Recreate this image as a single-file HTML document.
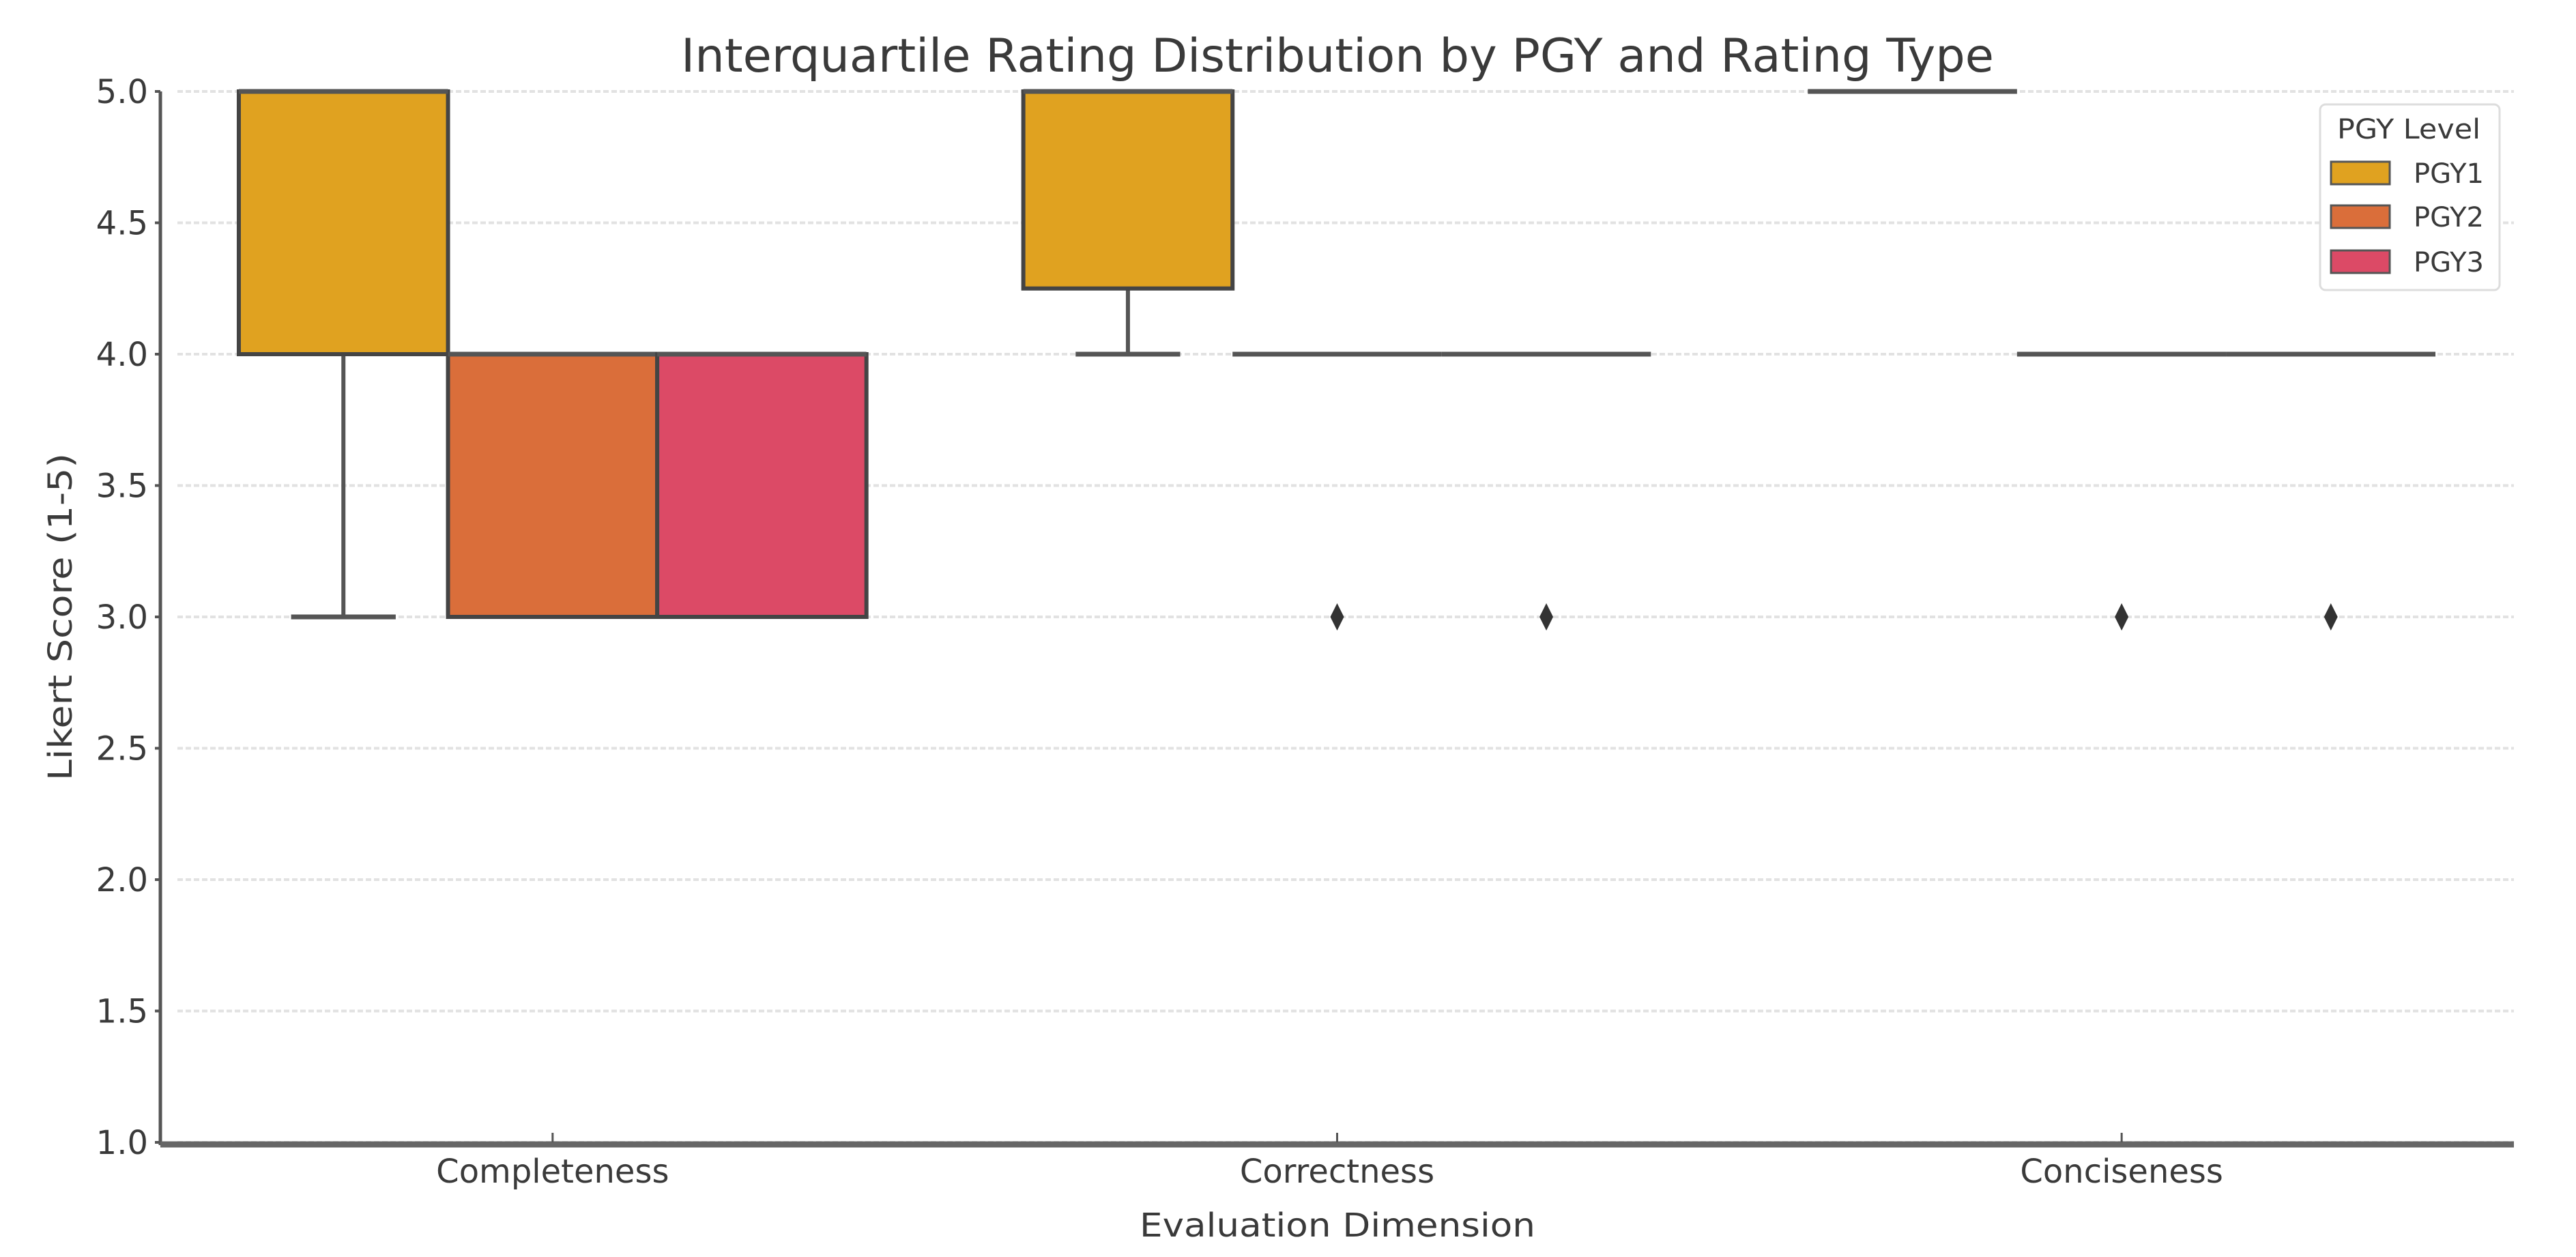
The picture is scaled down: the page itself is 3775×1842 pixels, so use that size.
<!DOCTYPE html>
<html><head><meta charset="utf-8">
<style>
html,body{margin:0;padding:0;background:#fff;}
svg{display:block;}
text{font-family:"DejaVu Sans","Liberation Sans",sans-serif;fill:#3a3a3a;}
</style></head>
<body>
<svg id="chart" width="3775" height="1842" viewBox="0 0 3775 1842" xmlns="http://www.w3.org/2000/svg">
<rect width="3775" height="1842" fill="#fff"/>
<g id="grid"></g>
<g id="boxes"></g>
<g id="axes"></g>
<text x="1960" y="105" font-size="68" text-anchor="middle" textLength="1924" lengthAdjust="spacingAndGlyphs">Interquartile Rating Distribution by PGY and Rating Type</text>
<text x="1960" y="1812" font-size="48" text-anchor="middle" textLength="580" lengthAdjust="spacingAndGlyphs">Evaluation Dimension</text>
<text x="0" y="0" font-size="48" text-anchor="middle" transform="translate(105,904) rotate(-90)" textLength="480" lengthAdjust="spacingAndGlyphs">Likert Score (1-5)</text>
<g id="legend">
<rect x="3400" y="153" width="263" height="272" rx="8" fill="#fff" stroke="#ddd" stroke-width="3"/>
<text x="3530" y="203" font-size="40" text-anchor="middle" textLength="210" lengthAdjust="spacingAndGlyphs">PGY Level</text>
</g>
</svg>
<script>
const categories = ["Completeness","Correctness","Conciseness"];
const groups = ["PGY1","PGY2","PGY3"];
const colors = ["#E0A220","#DA6E3A","#DC4A66"];
// per group, per category
const q1 =     [[4,4.25,5],[3,4,4],[3,4,4]];
const median = [[5,5,5],[4,4,4],[4,4,4]];
const q3 =     [[5,5,5],[4,4,4],[4,4,4]];
const whisLo = [[3,4,5],[3,4,4],[3,4,4]];
const whisHi = [[5,5,5],[4,4,4],[4,4,4]];
const outliers = [[[],[],[]],[[],[3],[3]],[[],[3],[3]]];
const yTicks = [1.0,1.5,2.0,2.5,3.0,3.5,4.0,4.5,5.0];

const NS="http://www.w3.org/2000/svg";
const pLeft=235, pRight=3684, pTop=134, pBottom=1674;
const step=(pRight-pLeft)/categories.length;
function xCat(i){return pLeft+step*(i+0.5);}
function y(v){return pBottom-(v-1)/4*(pBottom-pTop);}
const boxW=step*0.8/groups.length;
function xGroup(ci,gi){return xCat(ci)+(gi-(groups.length-1)/2)*boxW;}
function mk(tag,attrs,parent){const e=document.createElementNS(NS,tag);for(const k in attrs)e.setAttribute(k,attrs[k]);parent.appendChild(e);return e;}

const grid=document.getElementById('grid'), boxes=document.getElementById('boxes'), axes=document.getElementById('axes'), legend=document.getElementById('legend');

yTicks.forEach(t=>{
  const g=mk('line',{x1:pLeft+25,x2:pRight,y1:y(t),y2:y(t),stroke:'#e2e2e2','stroke-width':4,'stroke-dasharray':'8,4'},grid);
  
  
  const tk=mk('line',{x1:pLeft-8,x2:pLeft,y1:y(t),y2:y(t),stroke:'#555','stroke-width':4},axes);
  
  
  const tl=mk('text',{x:pLeft-18,y:y(t)+17,'font-size':48,'text-anchor':'end'},axes);
  tl.textContent=t.toFixed(1);
  
  
});
const ya=mk('line',{x1:pLeft,x2:pLeft,y1:pTop,y2:pBottom+4,stroke:'#555','stroke-width':5},axes);


const xa=mk('line',{x1:pLeft,x2:pRight,y1:pBottom+3,y2:pBottom+3,stroke:'#666','stroke-width':9},axes);


categories.forEach((c,i)=>{
  const tk=mk('line',{x1:xCat(i),x2:xCat(i),y1:pBottom-14,y2:pBottom,stroke:'#555','stroke-width':3},axes);
  
  
  const tl=mk('text',{x:xCat(i),y:1733,'font-size':48,'text-anchor':'middle'},axes);
  tl.textContent=c;
  
  
});

groups.forEach((g,gi)=>{
  categories.forEach((c,ci)=>{
    const cx=xGroup(ci,gi), x0=cx-boxW/2;
    const grp=mk('g',{},boxes);
    
    
    if(whisLo[gi][ci]<q1[gi][ci]){
      mk('line',{x1:cx,x2:cx,y1:y(q1[gi][ci]),y2:y(whisLo[gi][ci]),stroke:'#555','stroke-width':6},grp);
      mk('line',{x1:cx-boxW/4,x2:cx+boxW/4,y1:y(whisLo[gi][ci]),y2:y(whisLo[gi][ci]),stroke:'#555','stroke-width':7},grp);
    }
    if(whisHi[gi][ci]>q3[gi][ci]){
      mk('line',{x1:cx,x2:cx,y1:y(q3[gi][ci]),y2:y(whisHi[gi][ci]),stroke:'#555','stroke-width':6},grp);
      mk('line',{x1:cx-boxW/4,x2:cx+boxW/4,y1:y(whisHi[gi][ci]),y2:y(whisHi[gi][ci]),stroke:'#555','stroke-width':7},grp);
    }
    const h=y(q1[gi][ci])-y(q3[gi][ci]);
    if(h>0){
      mk('rect',{x:x0,y:y(q3[gi][ci]),width:boxW,height:h,fill:colors[gi],stroke:'#444','stroke-width':6},grp);
    }
    mk('line',{x1:x0,x2:x0+boxW,y1:y(median[gi][ci]),y2:y(median[gi][ci]),stroke:'#555','stroke-width':7},grp);
    outliers[gi][ci].forEach(v=>{
      const d=mk('path',{d:`M${cx} ${y(v)-20} L${cx+10} ${y(v)} L${cx} ${y(v)+20} L${cx-10} ${y(v)} Z`,fill:'#333'},grp);
      
      
    });
  });
  const ly=[253,317,383][gi];
  const p=mk('rect',{x:3416,y:ly-16,width:86,height:33,fill:colors[gi],stroke:'#555','stroke-width':3},legend);
  
  
  const t=mk('text',{x:3537,y:ly+15,'font-size':40},legend);
  t.textContent=g;
  
  
});
</script>
</body></html>
